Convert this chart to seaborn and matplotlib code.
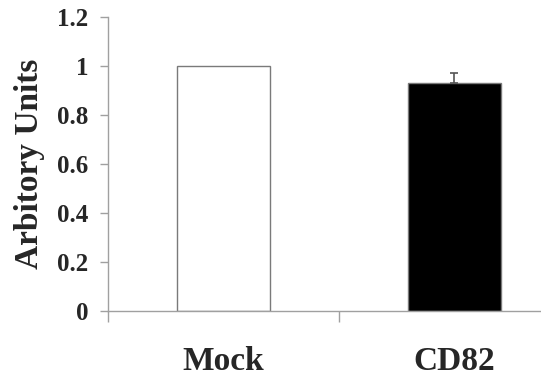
import matplotlib
matplotlib.use("Agg")
import matplotlib.pyplot as plt
import numpy as np
import pandas as pd
import seaborn as sns

# data
groups = ["Mock", "CD82"]
values = [1.0, 0.93]
errors = [0.0, 0.04]
bar_colors = ["white", "black"]

df = pd.DataFrame({"group": groups, "value": values})

sns.set_style("white")
plt.rcParams["font.family"] = ["Liberation Serif", "DejaVu Serif"]

fig = plt.figure(figsize=(5.41, 3.77), dpi=100)
ax = fig.add_axes([0.1996, 0.175, 0.854, 0.78])

sns.barplot(
    data=df, x="group", y="value", hue="group", palette=bar_colors,
    width=0.40, edgecolor="#7a7a7a", linewidth=1.0, legend=False, ax=ax,
)

# upper error bar only, skipping groups with no error
pos = np.arange(len(groups))
vals = np.array(values)
errs = np.array(errors)
has_err = errs > 0
ax.errorbar(
    pos[has_err], vals[has_err], yerr=[np.zeros(has_err.sum()), errs[has_err]],
    fmt="none", ecolor="#555555", elinewidth=1.2, capsize=3, capthick=1.2,
)

ax.set_xlim(-0.5, 1.5)
ax.set_ylim(0, 1.2)
ax.set_yticks(np.arange(0, 1.21, 0.2))
ax.set_yticklabels(["0", "0.2", "0.4", "0.6", "0.8", "1", "1.2"])
ax.set_xticks(pos)
ax.set_xticks([-0.5, 0.5, 1.5], minor=True)

ax.set_xlabel("")
ax.set_ylabel("Arbitory Units", fontsize=24, fontweight="bold", labelpad=9)

for lab in ax.get_yticklabels():
    lab.set_fontsize(18)
    lab.set_fontweight("bold")
for lab in ax.get_xticklabels():
    lab.set_fontsize(24)
    lab.set_fontweight("bold")

ax.tick_params(axis="y", which="major", direction="out", length=6, width=1,
               color="#a0a0a0", pad=8, left=True)
ax.tick_params(axis="x", which="major", length=0, pad=25)
ax.tick_params(axis="x", which="minor", direction="out", length=8, width=1,
               color="#a0a0a0", bottom=True)

sns.despine(ax=ax, top=True, right=True)
for side in ["left", "bottom"]:
    ax.spines[side].set_color("#a0a0a0")
    ax.spines[side].set_linewidth(1)

fig.savefig("out.png", dpi=100)
plt.close(fig)
